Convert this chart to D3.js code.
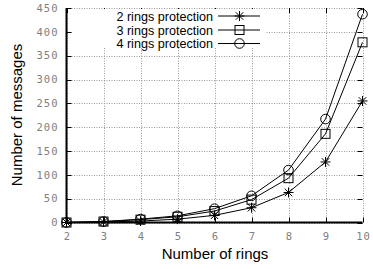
<!DOCTYPE html>
<html>
<head>
<meta charset="utf-8">
<script src="https://cdn.jsdelivr.net/npm/d3@7"></script>
<style>
  body { margin: 0; background: #fff; }
  svg { display: block; }
  .tick-label { font-family: "DejaVu Sans Mono", monospace; font-size: 10.5px; fill: #808080; letter-spacing: 1px; }
  .title { font-family: "Liberation Sans", Arial, sans-serif; font-size: 15px; fill: #000; }
  .legend-text { font-family: "Liberation Sans", Arial, sans-serif; font-size: 12.6px; fill: #000; }
</style>
</head>
<body>
<svg id="chart"></svg>
<script>
// DATA
const rings = [2, 3, 4, 5, 6, 7, 8, 9, 10];
const twoRings = [0, 1, 3, 7, 15, 31, 63, 127, 255];
const threeRings = [0, 2, 6, 12, 24, 48, 93, 186, 378];
const fourRings = [0, 2, 7, 14, 29, 56, 110, 217, 437];
const seriesNames = ["2 rings protection", "3 rings protection", "4 rings protection"];
const seriesSymbols = ["star", "square", "circle"];
const yTicks = [0, 50, 100, 150, 200, 250, 300, 350, 400, 450];

const width = 373;
const height = 269;
const margin = { left: 66.5, right: 10.5, top: 8, bottom: 46.5 };

const svg = d3.select("#chart").attr("width", width).attr("height", height);

const x = d3.scaleLinear().domain([2, 10]).range([margin.left, width - margin.right]);
const y = d3.scaleLinear().domain([0, 450]).range([height - margin.bottom, margin.top]);

const x0 = x.range()[0], x1 = x.range()[1];
const y0 = y.range()[0], y1 = y.range()[1];

// GRID
const grid = svg.append("g").attr("stroke", "#999").attr("stroke-dasharray", "1,1.5").attr("stroke-width", 1);
grid.selectAll("line.v").data(rings).enter().append("line")
  .attr("x1", (d) => Math.round(x(d)) + 0.5).attr("x2", (d) => Math.round(x(d)) + 0.5)
  .attr("y1", y1).attr("y2", y0);
grid.selectAll("line.h").data(yTicks).enter().append("line")
  .attr("x1", x0).attr("x2", x1)
  .attr("y1", (d) => Math.round(y(d)) + 0.5).attr("y2", (d) => Math.round(y(d)) + 0.5);

// TICKS (mirrored, inward)
const ticks = svg.append("g").attr("stroke", "#000").attr("stroke-width", 1);
rings.forEach((d) => {
  const px = Math.round(x(d)) + 0.5;
  ticks.append("line").attr("x1", px).attr("x2", px).attr("y1", y0).attr("y2", y0 - 5);
  ticks.append("line").attr("x1", px).attr("x2", px).attr("y1", y1).attr("y2", y1 + 5);
});
yTicks.forEach((d) => {
  const py = Math.round(y(d)) + 0.5;
  ticks.append("line").attr("x1", x0).attr("x2", x0 + 5).attr("y1", py).attr("y2", py);
  ticks.append("line").attr("x1", x1).attr("x2", x1 - 5).attr("y1", py).attr("y2", py);
});

// LEGEND background
svg.append("rect").attr("x", 72).attr("y", y1 + 1).attr("width", 194).attr("height", 39).attr("fill", "#fff");

// SYMBOLS
function drawSymbol(g, type, cx, cy) {
  if (type === "star") {
    const r = 5;
    const s = r * 0.75;
    g.append("path")
      .attr("d", `M${cx - r},${cy}L${cx + r},${cy}M${cx},${cy - r}L${cx},${cy + r}` +
        `M${cx - s},${cy - s}L${cx + s},${cy + s}M${cx - s},${cy + s}L${cx + s},${cy - s}`)
      .attr("stroke", "#000").attr("fill", "none");
  } else if (type === "square") {
    g.append("rect").attr("x", cx - 4.5).attr("y", cy - 4.5).attr("width", 9).attr("height", 9)
      .attr("stroke", "#000").attr("fill", "none");
  } else {
    g.append("circle").attr("cx", cx).attr("cy", cy).attr("r", 4.8)
      .attr("stroke", "#000").attr("fill", "none");
  }
}

// LINES
const allSeries = [twoRings, threeRings, fourRings];
const line = d3.line().x((d, i) => x(rings[i])).y((d) => y(d));
allSeries.forEach((vals, k) => {
  const g = svg.append("g");
  g.append("path").datum(vals).attr("d", line)
    .attr("fill", "none").attr("stroke", "#000").attr("stroke-width", 1);
  vals.forEach((v, i) => drawSymbol(g, seriesSymbols[k], x(rings[i]), y(v)));
});

// AXES (left & bottom solid)
svg.append("line").attr("x1", x0).attr("x2", x0).attr("y1", y1).attr("y2", y0 + 1)
  .attr("stroke", "#000").attr("stroke-width", 2);
svg.append("line").attr("x1", x0 - 1).attr("x2", x1).attr("y1", y0).attr("y2", y0)
  .attr("stroke", "#000").attr("stroke-width", 2);

// TICK LABELS
svg.append("g").selectAll("text").data(yTicks).enter().append("text")
  .attr("class", "tick-label").attr("text-anchor", "end")
  .attr("x", x0 - 8).attr("y", (d) => y(d) + 3.8).text((d) => d);
svg.append("g").selectAll("text").data(rings).enter().append("text")
  .attr("class", "tick-label").attr("text-anchor", "middle")
  .attr("x", (d) => x(d) + 1).attr("y", y0 + 17.5).text((d) => d);

// TITLES
svg.append("text").attr("class", "title").attr("text-anchor", "middle")
  .attr("x", 215).attr("y", 259).text("Number of rings");
svg.append("text").attr("class", "title").attr("text-anchor", "middle")
  .attr("transform", `translate(22, 115) rotate(-90)`).text("Number of messages");

// LEGEND
const legendY = [16, 30, 43.5];
seriesNames.forEach((name, k) => {
  const g = svg.append("g");
  g.append("text").attr("class", "legend-text").attr("text-anchor", "end")
    .attr("x", 213).attr("y", legendY[k] + 4.5).text(name);
  g.append("line").attr("x1", 218).attr("x2", 260).attr("y1", legendY[k]).attr("y2", legendY[k])
    .attr("stroke", "#000");
  drawSymbol(g, seriesSymbols[k], 239.5, legendY[k]);
});
</script>
</body>
</html>
